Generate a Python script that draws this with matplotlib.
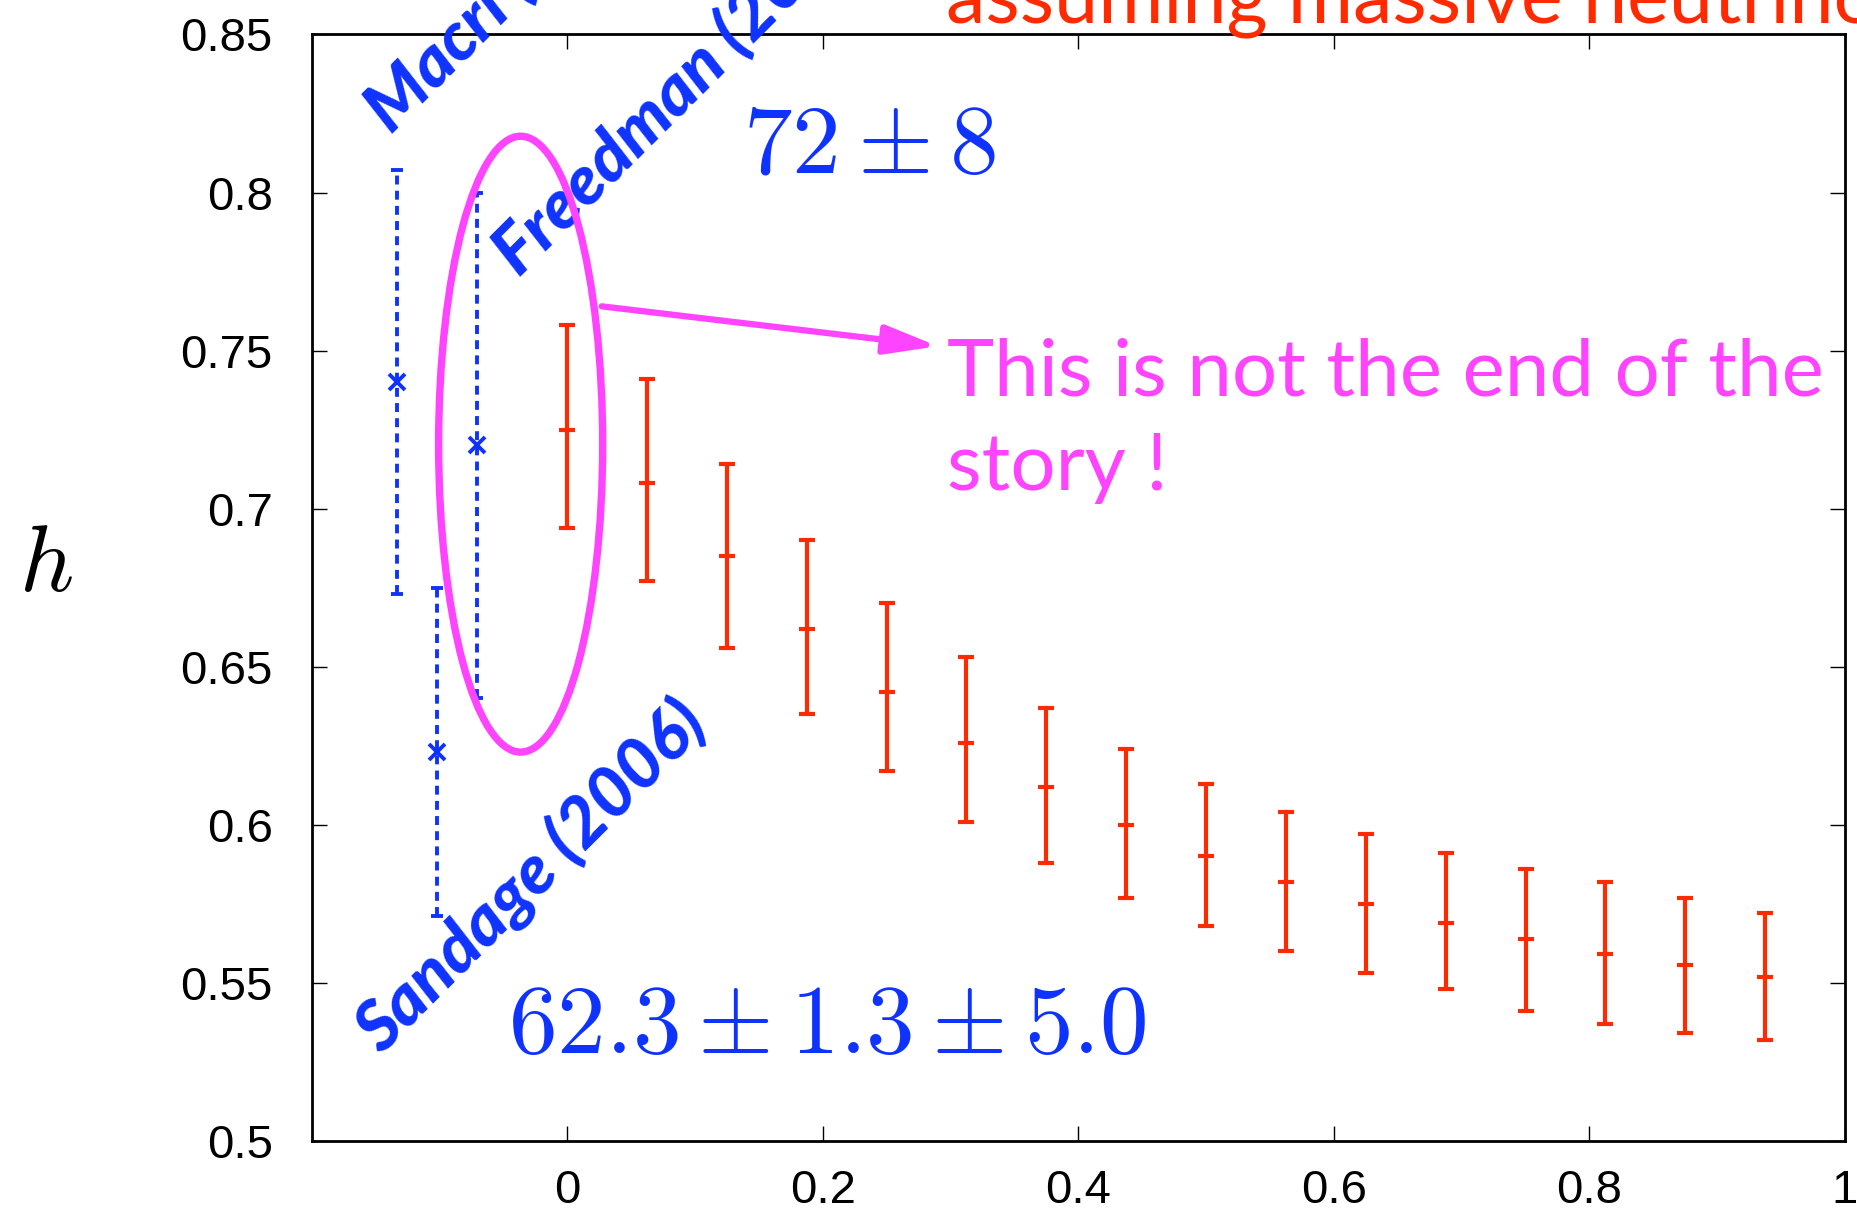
import matplotlib
matplotlib.use("Agg")
import matplotlib.pyplot as plt
from matplotlib.patches import Ellipse
from matplotlib import font_manager as fm
import numpy as np

plt.rcParams['mathtext.fontset'] = 'cm'

# ---- data ----
nu_x = [0.0, 0.0625, 0.125, 0.1875, 0.25, 0.3125, 0.375, 0.4375,
        0.5, 0.5625, 0.625, 0.6875, 0.75, 0.8125, 0.875, 0.9375]
h_val = [0.725, 0.708, 0.685, 0.662, 0.642, 0.626, 0.612, 0.600,
         0.590, 0.582, 0.575, 0.569, 0.564, 0.559, 0.5555, 0.552]
h_hi = [0.758, 0.741, 0.714, 0.690, 0.670, 0.653, 0.637, 0.624,
        0.613, 0.604, 0.597, 0.591, 0.586, 0.582, 0.577, 0.572]
h_lo = [0.694, 0.677, 0.656, 0.635, 0.617, 0.601, 0.588, 0.577,
        0.568, 0.560, 0.553, 0.548, 0.541, 0.537, 0.534, 0.532]

obs_names = ["Macri (2006)", "Sandage (2006)", "Freedman (2001)"]
obs_x = [-0.133, -0.102, -0.0705]
obs_h = [0.740, 0.623, 0.720]
obs_err = [0.067, 0.052, 0.080]

xticks = [0, 0.2, 0.4, 0.6, 0.8, 1]
xticklabels = ["0", "0.2", "0.4", "0.6", "0.8", "1"]
yticks = [0.5, 0.55, 0.6, 0.65, 0.7, 0.75, 0.8, 0.85]
yticklabels = ["0.5", "0.55", "0.6", "0.65", "0.7", "0.75", "0.8", "0.85"]

RED = "#ff2a00"
BLUE = "#0f33ff"
MAG = "#ff44ff"


def _w(v):
    if isinstance(v, (int, float)):
        return v
    return fm.weight_dict.get(str(v).lower(), 400)


# heaviest italic sans available for the author labels
pref = ["Lato", "Open Sans", "Roboto", "Noto Sans", "Inter"]
cands = [f for f in fm.fontManager.ttflist
         if f.name in pref and f.style in ("italic", "oblique")]
if cands:
    best = max(cands, key=lambda f: (_w(f.weight), -pref.index(f.name)))
    heavy = fm.FontProperties(fname=best.fname, size=50)
else:
    heavy = fm.FontProperties(family="DejaVu Sans", weight="bold",
                              style="italic", size=50)

fig = plt.figure(figsize=(18.58, 12.17), dpi=100)
ax = fig.add_axes([0.1677, 0.0625, 0.8253, 0.9092])
ax.set_xlim(-0.2, 1.0)
ax.set_ylim(0.5, 0.85)

# red model error bars
yerr = [np.array(h_val) - np.array(h_lo), np.array(h_hi) - np.array(h_val)]
ax.errorbar(nu_x, h_val, yerr=yerr, fmt='_', color=RED, ecolor=RED,
            elinewidth=3.0, capsize=5.5, capthick=3.0,
            markersize=11, markeredgewidth=3.0, zorder=3)

# blue observational points
for x, y, e in zip(obs_x, obs_h, obs_err):
    eb = ax.errorbar([x], [y], yerr=[e], fmt='x', color=BLUE, ecolor=BLUE,
                     elinewidth=2.8, capsize=4, capthick=2.8,
                     markersize=11, markeredgewidth=2.8, zorder=3)
    eb[2][0].set_linestyle((0, (2.3, 1.6)))

# magenta ellipse and arrow
ax.add_patch(Ellipse((-0.0364, 0.7204), 0.1284, 0.1948, fill=False,
                     edgecolor=MAG, linewidth=5.3, zorder=4))
ax.annotate("", xy=(0.290, 0.7514), xytext=(0.027, 0.764),
            arrowprops=dict(arrowstyle='-|>,head_length=0.8,head_width=0.22',
                            color=MAG, lw=4.5, mutation_scale=40,
                            shrinkA=0, shrinkB=0), zorder=4)

ax.text(0.297, 0.7359, "This is not the end of the", color=MAG,
        fontsize=57.5, family="Lato", ha='left', va='baseline')
ax.text(0.297, 0.7058, "story !", color=MAG,
        fontsize=57.5, family="Lato", ha='left', va='baseline')

# blue formula labels
ax.text(0.1374, 0.8064, r"$72\pm8$", color=BLUE, fontsize=70,
        ha='left', va='baseline')
ax.text(-0.0466, 0.5278, r"$62.3\pm1.3\pm5.0$", color=BLUE, fontsize=70,
        ha='left', va='baseline')

# rotated author labels
lab_kw = dict(color=BLUE, fontproperties=heavy, rotation=45,
              rotation_mode='anchor', ha='left', va='baseline', clip_on=False)
ax.text(-0.138, 0.818, obs_names[0], **lab_kw)
ax.text(-0.145, 0.527, obs_names[1], **lab_kw)
ax.text(-0.0377, 0.7728, obs_names[2], **lab_kw)

# title (partly outside figure)
fig.text(946 / 1858, 1 - 22 / 1217, "assuming massive neutrinos",
         color=RED, fontsize=57, family="Lato", ha='left', va='baseline')

# y label
fig.text(46 / 1858, 1 - 565 / 1217, r"$h$", fontsize=68, ha='center',
         va='center', color='black')

# axes styling
ax.set_xticks(xticks)
ax.set_xticklabels(xticklabels)
ax.set_yticks(yticks)
ax.set_yticklabels(yticklabels)
for lab in ax.get_xticklabels() + ax.get_yticklabels():
    lab.set_family("Liberation Sans")
    lab.set_fontsize(34)
ax.tick_params(axis='both', which='major', direction='in', length=11,
               width=1.0, top=True, right=True)
ax.tick_params(axis='x', pad=20)
ax.tick_params(axis='y', pad=28)
ax.minorticks_off()
for s in ax.spines.values():
    s.set_linewidth(2.0)

fig.savefig("out.png", dpi=100)
